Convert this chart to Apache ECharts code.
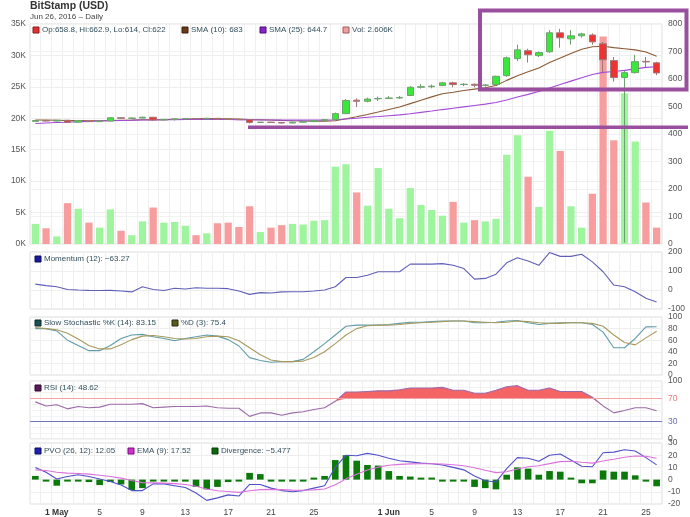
<!DOCTYPE html>
<html>
<head>
<meta charset="utf-8">
<script src="https://cdn.jsdelivr.net/npm/echarts@6/dist/echarts.min.js"></script>
<style>
html,body{margin:0;padding:0;background:#fff;}
#chart{width:690px;height:517px;}
</style>
</head>
<body>
<div id="chart"></div>
<script>
// ---------- DATA ----------
const dates = ['Apr 29','Apr 30',
 'May 1','May 2','May 3','May 4','May 5','May 6','May 7','May 8','May 9','May 10',
 'May 11','May 12','May 13','May 14','May 15','May 16','May 17','May 18','May 19','May 20',
 'May 21','May 22','May 23','May 24','May 25','May 26','May 27','May 28','May 29','May 30','May 31',
 'Jun 1','Jun 2','Jun 3','Jun 4','Jun 5','Jun 6','Jun 7','Jun 8','Jun 9','Jun 10',
 'Jun 11','Jun 12','Jun 13','Jun 14','Jun 15','Jun 16','Jun 17','Jun 18','Jun 19','Jun 20',
 'Jun 21','Jun 22','Jun 23','Jun 24','Jun 25','Jun 26'];
const xTickLabels = ['May 1','May 5','May 9','May 13','May 17','May 21','May 25','Jun 1','Jun 5','Jun 9','Jun 13','Jun 17','Jun 21','Jun 25'];

const openP = [446,449,447,450,443,449,445,447,459,457, 458,461,451,453,455,456,455,457,454,453,
 452,442,443,442,440,443,445,449,453,474, 523,519,528,529,531,540,570,572,576,586,
 580,581,577,580,612,674,703,685,699,768, 746,757,760,728,667,605,623,664,658.8];
const closeP = [449,447,450,443,449,445,447,459,457,458, 461,451,453,455,456,455,457,454,453,452,
 442,443,442,440,443,445,449,452,474,522, 519,527,529,531,533,570,572,574,586,580,
 581,577,578,610,677,706,688,696,768,750, 757,764,735,670,605,623,663,662,622];
const highP = [451,450,451,451,451,450,449,461,460,460, 463,462,455,456,458,457,459,458,455,455,
 453,444,444,444,445,447,450,453,478,527, 530,532,536,538,538,574,582,580,590,590,
 585,583,581,612,682,725,710,700,778,782, 778,768,766,735,680,630,688,680,662.9];
const lowP = [445,445,446,441,441,444,444,446,456,456, 457,449,450,449,453,454,454,452,451,451,
 438,440,440,438,439,442,444,448,452,473, 498,515,520,527,528,538,565,566,574,570,
 574,570,572,577,608,665,660,680,695,714, 725,750,725,625,590,5,620,641,614];
const volume = [3200,2500,1200,6500,5600,3400,2600,5500,2100,1400, 3600,5800,3400,3500,2900,1400,1700,3300,3400,2700,
 6000,1900,2600,3000,3200,3100,3700,3800,12300,12700, 8200,6100,12100,5600,4100,8900,6200,5400,4500,6700,
 3400,3800,3600,4000,14200,17300,10700,5900,18000,14800, 6000,2600,8000,33000,16500,24000,16300,6600,2606];
const sma10 = [451,451,450,449,449,448,448,449,450,450.4, 451.6,452,452.3,453.5,454.2,455.2,456.2,455.7,455.3,454.7,
 452.8,452,450.9,449.4,448.1,447.1,446.3,446.1,448.2,455.2, 462.8,471.2,479.9,489,498,510.5,522.8,535,546.2,552,
 558.3,563.3,568.2,576.1,595,612,626,640,660,676, 693,708,717,719,714,710,706,698,683];
const sma25 = [438,440,442,443,445,446,447,448,449,450, 451,451,452,452,452.5,452.5,453,453,452.5,452,
 451.5,451,450.8,450.6,450.4,450.3,450.4,450.4,451.7,454.6, 457.5,460.7,463.5,466.5,469.5,473.8,478.7,483.5,488.8,493.7,
 498.8,503.6,508.5,514.8,523.8,534.4,544.2,554.3,567.4,579.7, 592.2,604.8,616.1,624,627.3,631.5,636.9,642.2,644.7];
const momentum = [31,23,17,3,0,-2,-3,-2,-5,-10, 17,3,-3,9,5,12,9,9,7,-5,
 -23,-14,-16,-10,-9,-9,-5,0,17,66, 66,78,96,96,96,136,136,136,139,130,
 113,57,61,83,143,170,153,130,197,177, 177,188,148,96,26,17,-9,-43,-63.27];
const stochK = [80,80,76,60,51,42,42,51,63,69, 70,66,63,59,63,66,69,67,61,50,
 30,25,22,23,23,27,40,54,69,84, 86,86,86,87,89,91,91,92,93,93,
 93,90,90,91,93,94,90,87,89,90, 90,90,87,74,47,47,63,83,83.15];
const stochD = [82,80,78,72,62,51,45,45,52,61, 67,68,66,63,62,63,66,67,66,59,
 47,35,26,23,23,24,30,40,54,69, 80,85,86,86,87,89,90,91,92,93,
 93,92,91,90,91,93,92,90,89,89, 90,90,89,84,69,56,52,64,75.4];
const rsi = [64,57,59,52,56,54,55,60,60,60, 61,54,55,56,56,56,57,54,53,53,
 39,45,45,41,45,47,51,54,65,81, 81,82,83,83,85,88,88,88,89,84,
 84,79,79,84,90,92,84,84,88,82, 82,82,72,57,45,49,54,54,48.62];
const pvo = [10,6,0.5,2.5,4,2.5,0.5,-1.5,-4.5,-9, -9,-3.5,-3.5,-5,-6.5,-11,-17,-15,-12.5,-13.5,
 -4,-4,-7,-9,-10,-9,-7,-5,10,20, 19.5,21.5,20,17.5,15.5,14.5,13.5,13,12,10,
 8,3,-1,-2,9,18,17.5,15,20,21, 16,11,10.5,22,22.5,24.5,23.5,18,12.05];
const pvoEma = [8,7.5,6,5.3,5,4.5,3.6,2.6,1.2,-0.8, -2.5,-2.7,-2.9,-3.3,-4,-5.4,-7.7,-9.2,-9.8,-10.5,
 -9.2,-8.2,-8,-8.2,-8.6,-8.7,-8.4,-7.7,-4.2,0.6, 4.4,7.8,10.2,11.7,12.5,12.9,13,13,12.8,12.2,
 11.4,9.7,7.6,5.7,6.4,8.7,10.5,11.4,13.1,14.7, 15,14.2,13.5,15.2,16.7,18.3,19.3,19.1,17.52];
const divergence = [3,-1,-5,-1.5,-0.5,-2,-4.5,-2,-4,-8.5, -7,-1,-1,-1,-1.5,-6,-8,-6,-2,-1.5,
 5.5,4.5,-0.5,-0.5,-0.5,-0.5,1,3,16,20, 15.5,12,11.5,7,3,2.5,0.5,0.3,-0.5,-1.5,
 -1.5,-6,-7,-8,4,10,9,4,7,6.5, 1.5,-3,-3,7.5,6.5,6.5,3.5,-0.5,-5.477];

// ---------- STYLE ----------
const FONT = '"Liberation Sans", Arial, Helvetica, sans-serif';
const UP = '#3ae83a', DOWN = '#ee3232';
const VOL_UP = '#9ef59e', VOL_DOWN = '#f89d9d';
const GRIDS = [
  {top: 24, height: 220},
  {top: 252, height: 57},
  {top: 317, height: 58},
  {top: 381, height: 58},
  {top: 443, height: 63}
];
const last = a => a[a.length - 1];
const fmtNeg = v => String(v).replace('-', '\u2212');

const candleData = openP.map((o, i) => [o, closeP[i], lowP[i], highP[i]]);
const volData = volume.map((v, i) => ({
  value: v,
  itemStyle: {color: closeP[i] >= openP[i] ? VOL_UP : VOL_DOWN}
}));
const rsiBase = rsi.map(v => Math.min(v, 70));
const rsiExcess = rsi.map(v => Math.max(v - 70, 0));

const axisLbl = {fontFamily: FONT, fontSize: 8.5, color: '#555'};
const splitL = {show: true, lineStyle: {color: '#eeeeee', width: 1}};

const xAxes = GRIDS.map((g, i) => ({
  type: 'category', gridIndex: i, data: dates, boundaryGap: true,
  axisLine: {show: false}, axisTick: {show: false},
  splitLine: {show: true, interval: 0, lineStyle: {color: '#efefef'}},
  axisLabel: i === 4 ? {
    show: true, margin: 4, fontFamily: FONT, fontSize: 8.5, color: '#444',
    interval: (idx, val) => xTickLabels.includes(val),
    formatter: v => { const p = v.split(' '); return p[1] === '1' ? '{b|1 ' + p[0] + '}' : p[1]; },
    rich: {b: {fontWeight: 'bold', fontFamily: FONT, fontSize: 8.5, color: '#333'}}
  } : {show: false}
}));

function rightAxis(grid, min, max, interval, extra) {
  return Object.assign({
    type: 'value', gridIndex: grid, position: 'right', min: min, max: max, interval: interval,
    axisLine: {show: false}, axisTick: {show: false},
    axisLabel: Object.assign({margin: 6, showMinLabel: true, showMaxLabel: true}, axisLbl),
    splitLine: splitL
  }, extra || {});
}

const yAxes = [
  {type: 'value', gridIndex: 0, position: 'left', min: 0, max: 35000, interval: 5000,
   axisLine: {show: false}, axisTick: {show: false},
   axisLabel: Object.assign({margin: 4, showMinLabel: true, showMaxLabel: true, formatter: v => (v / 1000) + 'K'}, axisLbl),
   splitLine: splitL},
  rightAxis(0, 0, 800, 100, {splitLine: {show: true, lineStyle: {color: '#f2f2f2'}}}),
  rightAxis(1, -100, 200, 100),
  rightAxis(2, 0, 100, 20),
  rightAxis(3, 0, 100, 10, {
    axisLabel: Object.assign({margin: 6, showMinLabel: true, showMaxLabel: true,
      formatter: v => (v == 0 || v == 30 || v == 70 || v == 100) ? String(v) : '',
      color: v => v == 70 ? '#e07a7a' : (v == 30 ? '#6a6ab8' : '#555')}, {fontFamily: FONT, fontSize: 8.5}),
    splitLine: {show: true, lineStyle: {color: '#f3f3f3'}}
  }),
  rightAxis(4, -20, 30, 10)
];

function line(name, data, color, xi, yi, extra) {
  return Object.assign({
    name: name, type: 'line', data: data, xAxisIndex: xi, yAxisIndex: yi,
    symbol: 'none', smooth: false, lineStyle: {color: color, width: 1.1}, itemStyle: {color: color},
    z: 4
  }, extra || {});
}

const series = [
  {name: 'Vol', type: 'bar', data: volData, xAxisIndex: 0, yAxisIndex: 0, barWidth: '68%', z: 1},
  {name: 'Price', type: 'candlestick', data: candleData, xAxisIndex: 0, yAxisIndex: 1, barWidth: 7, z: 5,
   itemStyle: {color: UP, color0: DOWN, borderColor: '#6fa06f', borderColor0: '#a07878', borderWidth: 1}},
  line('SMA10', sma10, '#8b5a34', 0, 1),
  line('SMA25', sma25, '#a34ad8', 0, 1),
  line('Momentum', momentum, '#5f5fb8', 1, 2),
  line('K', stochK, '#5f9ca8', 2, 3),
  line('D', stochD, '#a89a5e', 2, 3),
  {name: 'rsiBase', type: 'line', data: rsiBase, stack: 'rsi', xAxisIndex: 3, yAxisIndex: 4,
   symbol: 'none', lineStyle: {width: 0, opacity: 0}, silent: true, z: 2},
  {name: 'rsiExcess', type: 'line', data: rsiExcess, stack: 'rsi', xAxisIndex: 3, yAxisIndex: 4,
   symbol: 'none', lineStyle: {width: 0, opacity: 0}, areaStyle: {color: '#f46464', opacity: 1}, silent: true, z: 2},
  line('RSI', rsi, '#9c6aa8', 3, 4, {
    markLine: {silent: true, symbol: 'none', label: {show: false}, animation: false,
      data: [
        {yAxis: 70, lineStyle: {color: '#f2a4a4', width: 1, type: 'solid'}},
        {yAxis: 30, lineStyle: {color: '#7474c4', width: 1, type: 'solid'}}
      ]}
  }),
  {name: 'Divergence', type: 'bar', data: divergence, xAxisIndex: 4, yAxisIndex: 5,
   barWidth: '62%', barMinHeight: 2, itemStyle: {color: '#0b7a0b'}, z: 2},
  line('PVO', pvo, '#5050c8', 4, 5),
  line('EMA', pvoEma, '#dc70dc', 4, 5)
];

// ---------- LEGENDS / TITLES ----------
function legendItem(x, y, fill, stroke, text) {
  return [
    {type: 'rect', shape: {x: x, y: y - 3, width: 6, height: 6}, style: {fill: fill, stroke: stroke, lineWidth: 1}, z: 50},
    {type: 'text', x: x + 9, y: y, style: {text: text, fontFamily: FONT, fontSize: 8, fill: '#34505e', verticalAlign: 'middle'}, z: 50}
  ];
}
const ohlcText = 'Op:' + last(openP) + ', Hi:' + last(highP) + ', Lo:' + last(lowP) + ', Cl:' + last(closeP);
const g = [].concat(
  [{type: 'text', x: 30, y: 1, style: {text: 'BitStamp (USD)', fontFamily: FONT, fontSize: 10.5, fontWeight: 'bold', fill: '#333'}},
   {type: 'text', x: 30, y: 13, style: {text: 'Jun 26, 2016 \u2013 Daily', fontFamily: FONT, fontSize: 8, fill: '#444'}}],
  legendItem(33, 30, '#e03030', '#8a1a1a', ohlcText),
  legendItem(182, 30, '#6b3a1a', '#3a1e0a', 'SMA (10): ' + last(sma10)),
  legendItem(260, 30, '#8a22c8', '#4a0a7a', 'SMA (25): ' + last(sma25)),
  legendItem(343, 30, '#f0a0a0', '#a05858', 'Vol: ' + (last(volume) / 1000).toFixed(3) + 'K'),
  legendItem(35, 259, '#1a1a9a', '#0a0a5a', 'Momentum (12): ' + fmtNeg(last(momentum))),
  legendItem(35, 323, '#1d4d55', '#0a2a2a', 'Slow Stochastic %K (14): ' + last(stochK)),
  legendItem(172, 323, '#5a5a1a', '#2a2a0a', '%D (3): ' + last(stochD)),
  legendItem(35, 388, '#5a1a5a', '#2a0a2a', 'RSI (14): ' + last(rsi)),
  legendItem(35, 451, '#2020b0', '#0a0a6a', 'PVO (26, 12): ' + last(pvo)),
  legendItem(128, 451, '#d030d0', '#7a0a7a', 'EMA (9): ' + last(pvoEma)),
  legendItem(212, 451, '#0a6a0a', '#053a05', 'Divergence: ' + fmtNeg(last(divergence))),
  // hand-drawn highlight annotations
  [{type: 'rect', shape: {x: 480, y: 10.5, width: 206.5, height: 79}, style: {fill: 'none', stroke: '#9a4f9e', lineWidth: 4}, z: 100},
   {type: 'line', shape: {x1: 248, y1: 127.3, x2: 688, y2: 127.3}, style: {stroke: '#9a4f9e', lineWidth: 3.5}, z: 100}]
);

const chart = echarts.init(document.getElementById('chart'), null, {renderer: 'canvas'});
chart.setOption({
  animation: false,
  backgroundColor: '#ffffff',
  textStyle: {fontFamily: FONT},
  grid: GRIDS.map(gr => ({left: 30, right: 28, top: gr.top, height: gr.height,
    show: true, borderColor: '#dcdcdc', borderWidth: 1, backgroundColor: 'transparent'})),
  xAxis: xAxes,
  yAxis: yAxes,
  series: series,
  graphic: g
});
</script>
</body>
</html>
